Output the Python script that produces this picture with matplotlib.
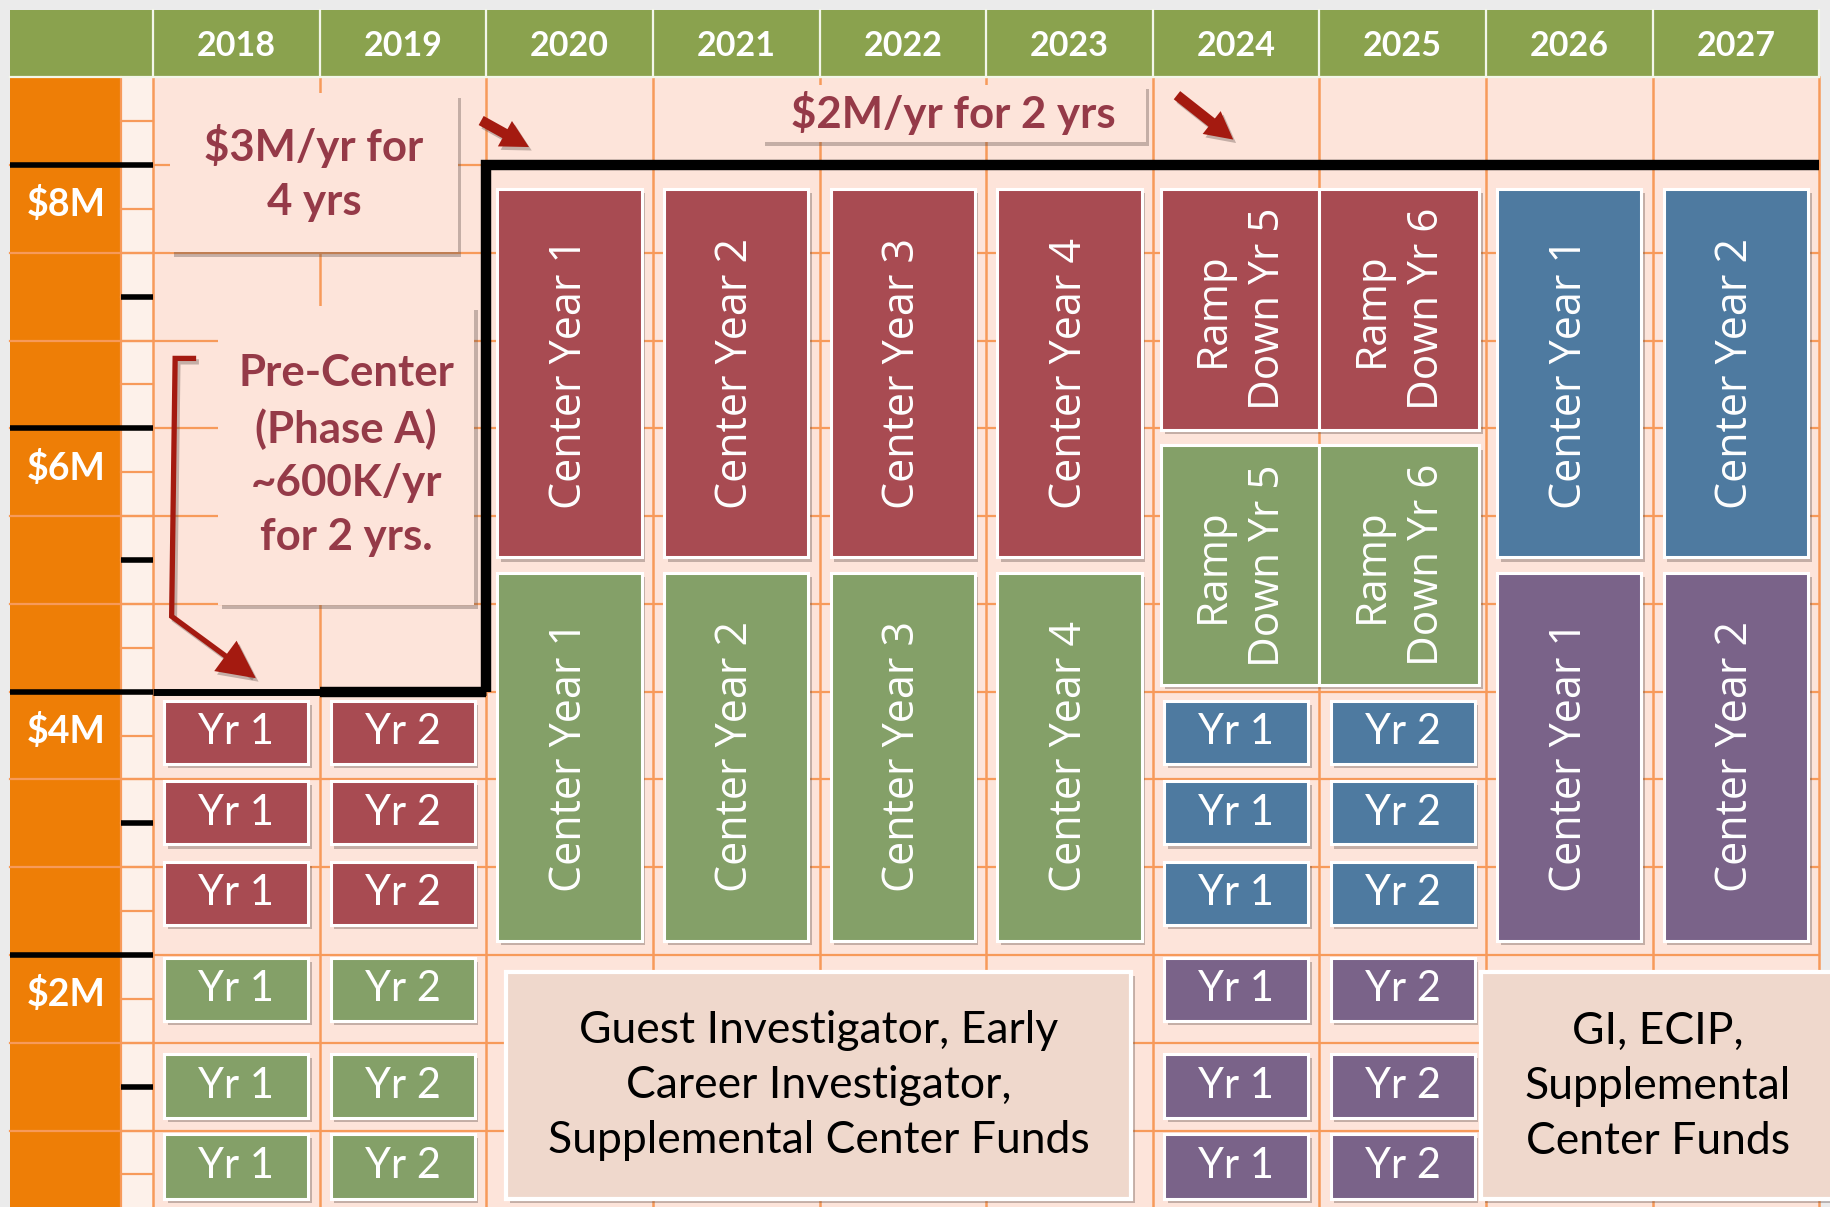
import matplotlib
matplotlib.use('Agg')
import matplotlib.pyplot as plt
import matplotlib.patches as patches
import matplotlib.patheffects as pe
from matplotlib.path import Path
import numpy as np

# --- DATEN ---
years = list(range(2018, 2028))
tick_values = [2, 4, 6, 8]
tick_labels = ['$2M', '$4M', '$6M', '$8M']
minor_tick_values = [1, 3, 5, 7]

# Stapel der kleinen Zwei-Jahres-Förderungen (unten/oben in $M)
upper_bottoms = [3.45, 2.84, 2.23]
upper_tops = [3.93, 3.32, 2.71]
lower_bottoms = [1.50, 0.76, 0.15]
lower_tops = [1.98, 1.25, 0.64]

award_years = [2018, 2019, 2024, 2025]
award_labels = ['Yr 1', 'Yr 2', 'Yr 1', 'Yr 2']

center_years = [2020, 2021, 2022, 2023, 2026, 2027]
center_labels = ['Center Year 1', 'Center Year 2', 'Center Year 3', 'Center Year 4',
                 'Center Year 1', 'Center Year 2']
center_upper = (5.02, 7.82)
center_lower = (2.11, 4.90)

ramp_years = [2024, 2025]
ramp_labels = ['Ramp\nDown Yr 5', 'Ramp\nDown Yr 6']
ramp_upper = (5.99, 7.82)
ramp_lower = (4.05, 5.87)

gi_box_years = (2020.12, 2023.87)
gi_box_years_2 = (2025.97, 2028.3)
gi_range = (0.15, 1.87)

# Grenze Pre-Center / Center
boundary_x = [2018, 2020, 2020, 2028]
boundary_y = [4, 4, 8, 8]

# --- FARBEN ---
RED = '#a84b52'
GREEN = '#84a068'
BLUE = '#4e7aa0'
PURPLE = '#7a6389'
HEADER = '#8aa24e'
ORANGE = '#ee7e06'
GRID = '#f79a5a'
BG = '#fde4da'
NOTE = '#953a48'
ARROW = '#a41a10'

LATO = ['Lato', 'DejaVu Sans']
OPEN = ['Open Sans', 'DejaVu Sans']

fig = plt.figure(figsize=(18.31, 12.07), dpi=100, facecolor='#ebebeb')
ax = fig.add_axes([0, 0, 1, 1])
ax.set_xlim(2017.082, 2028.070)
ax.set_ylim(0.086, 9.253)
ax.axis('off')

top = 8 + 2 / 3
left = 2017.145
strip = 2017.811

shadow = [pe.SimplePatchShadow(offset=(2.5, -3), shadow_rgbFace='#5a4a45', alpha=0.35), pe.Normal()]

# Hintergründe
ax.add_patch(patches.Rectangle((2018, -1), 10, top + 1, facecolor=BG, edgecolor='none', zorder=0))
ax.add_patch(patches.Rectangle((left, -1), strip - left, top + 1, facecolor=ORANGE, edgecolor='none', zorder=0))
ax.add_patch(patches.Rectangle((strip, -1), 2018 - strip, top + 1, facecolor='#fdf1ea', edgecolor='none', zorder=0))
ax.add_patch(patches.Rectangle((left, top), 2028 - left, 9.18 - top, facecolor=HEADER, edgecolor='none', zorder=0))

# Gitter
for y in np.arange(0, top, 2 / 3):
    ax.plot([left, 2028], [y, y], color=GRID, lw=1.6, zorder=1)
for y in np.arange(0, top, 1 / 3):
    ax.plot([strip, 2018], [y, y], color=GRID, lw=1.6, zorder=1)
for x in years + [2028]:
    ax.plot([x, x], [-1, top], color=GRID, lw=1.8, zorder=1)
ax.plot([strip, strip], [-1, top], color=GRID, lw=1.6, zorder=1)

# Kopfzeile
for x in years + [2028]:
    ax.plot([x, x], [top, 9.18], color='#f3f6ea', lw=1.6, zorder=1)
ax.plot([left, 2028], [top, top], color='#f3f6ea', lw=1.6, zorder=1)
for yr in years:
    ax.text(yr + 0.5, 8.9, str(yr), color='white', fontsize=24.5, fontweight='bold',
            family=LATO, ha='center', va='center', zorder=2)

# y-Achse
for v, lab in zip(tick_values, tick_labels):
    ax.plot([left, 2018], [v, v], color='black', lw=4, zorder=4, solid_capstyle='butt')
    ax.text((left + strip) / 2, v - 0.3, lab, color='white', fontsize=27, fontweight='bold',
            family=LATO, ha='center', va='center', zorder=4)
for v in minor_tick_values:
    ax.plot([strip, 2018], [v, v], color='black', lw=4, zorder=4, solid_capstyle='butt')

# schwarze Grenzlinie
ax.plot(boundary_x[:2], boundary_y[:2], color='black', lw=5, zorder=4, solid_capstyle='butt')
ax.plot(boundary_x[1:], boundary_y[1:], color='black', lw=7.5, zorder=4,
        solid_joinstyle='miter', solid_capstyle='butt')
ax.plot([2019, 2020], [4, 4], color='black', lw=7.5, zorder=4, solid_capstyle='butt')


def box(x0, x1, y0, y1, color, label=None, rot=0, fs=30, family=LATO, tcolor='white',
        weight='normal', edge='white', lw=2.2, z=3, ls=1.2):
    rect = patches.Rectangle((x0, y0), x1 - x0, y1 - y0, facecolor=color, edgecolor=edge,
                             lw=lw, zorder=z)
    rect.set_path_effects(shadow)
    ax.add_patch(rect)
    if label:
        ax.text((x0 + x1) / 2, (y0 + y1) / 2, label, rotation=rot, ha='center', va='center',
                multialignment='center', fontsize=fs, family=family, color=tcolor,
                fontweight=weight, linespacing=ls, zorder=z + 1)


W = 0.865
# kleine Förderungen
for i, (yr, lab) in enumerate(zip(award_years, award_labels)):
    up_col = RED if yr < 2020 else BLUE
    lo_col = GREEN if yr < 2020 else PURPLE
    for b, t in zip(upper_bottoms, upper_tops):
        box(yr + 0.5 - W / 2, yr + 0.5 + W / 2, b, t, up_col, lab)
    for b, t in zip(lower_bottoms, lower_tops):
        box(yr + 0.5 - W / 2, yr + 0.5 + W / 2, b, t, lo_col, lab)

# Center-Jahre
for yr, lab in zip(center_years, center_labels):
    up_col = RED if yr < 2024 else BLUE
    lo_col = GREEN if yr < 2024 else PURPLE
    box(yr + 0.5 - W / 2, yr + 0.5 + W / 2, center_upper[0], center_upper[1], up_col, lab,
        rot=90, fs=31, family=OPEN)
    box(yr + 0.5 - W / 2, yr + 0.5 + W / 2, center_lower[0], center_lower[1], lo_col, lab,
        rot=90, fs=31, family=OPEN)

# Ramp Down
ramp_insets = [(0.05, 1.0), (0.0, 0.96)]
for yr, lab, (a, b) in zip(ramp_years, ramp_labels, ramp_insets):
    box(yr + a, yr + b, ramp_upper[0], ramp_upper[1], RED, lab, rot=90, fs=30.5, family=OPEN, ls=1.4)
    box(yr + a, yr + b, ramp_lower[0], ramp_lower[1], GREEN, lab, rot=90, fs=30.5, family=OPEN, ls=1.4)

# GI-Kästen
box(gi_box_years[0], gi_box_years[1], gi_range[0], gi_range[1], '#efd8cc',
    'Guest Investigator, Early\nCareer Investigator,\nSupplemental Center Funds',
    fs=32, tcolor='black', lw=3, ls=1.42)
rect = patches.Rectangle((gi_box_years_2[0], gi_range[0]), gi_box_years_2[1] - gi_box_years_2[0],
                         gi_range[1] - gi_range[0], facecolor='#efd8cc', edgecolor='white',
                         lw=3, zorder=3)
rect.set_path_effects(shadow)
ax.add_patch(rect)
ax.text(2027.03, 1.0, 'GI, ECIP,\nSupplemental\nCenter Funds', ha='center', va='center',
        fontsize=32, family=LATO, color='black', linespacing=1.42, zorder=4)

# Hinweis-Kästen
box(2018.105, 2019.829, 7.336, 8.543, BG, '$3M/yr for\n4 yrs', fs=31.5, tcolor=NOTE,
    weight='bold', edge='none', lw=0, z=5, ls=1.42)
box(2021.651, 2023.957, 8.178, 8.605, BG, '$2M/yr for 2 yrs', fs=31.5, tcolor=NOTE,
    weight='bold', edge='none', lw=0, z=5)
box(2018.392, 2019.927, 4.66, 6.93, BG, 'Pre-Center\n(Phase A)\n~600K/yr\nfor 2 yrs.', fs=31.5,
    tcolor=NOTE, weight='bold', edge='none', lw=0, z=5, ls=1.42)

# Pfeile
arrow_shadow = [pe.SimplePatchShadow(offset=(2, -2.5), shadow_rgbFace='#5a4a45', alpha=0.35), pe.Normal()]
for p0, p1 in [((2019.955, 8.348), (2020.271, 8.126)), ((2024.132, 8.543), (2024.496, 8.180))]:
    arr = patches.FancyArrowPatch(p0, p1, arrowstyle='simple,head_length=0.9,head_width=0.95,tail_width=0.34',
                                  mutation_scale=22, color=ARROW, lw=0, zorder=6)
    arr.set_path_effects(arrow_shadow)
    ax.add_patch(arr)

bent = Path([(2018.259, 6.531), (2018.133, 6.531), (2018.112, 4.572), (2018.617, 4.102)],
            [Path.MOVETO, Path.LINETO, Path.LINETO, Path.LINETO])
arr = patches.FancyArrowPatch(path=bent, arrowstyle='-|>,head_length=0.7,head_width=0.35',
                              mutation_scale=30, color=ARROW, lw=3.8, zorder=6,
                              joinstyle='miter', capstyle='butt')
arr.set_path_effects([pe.SimpleLineShadow(offset=(2, -2.5), shadow_color='#5a4a45', alpha=0.35),
                      pe.Normal()])
ax.add_patch(arr)

plt.savefig('out.png', dpi=100, facecolor=fig.get_facecolor())
plt.close()
